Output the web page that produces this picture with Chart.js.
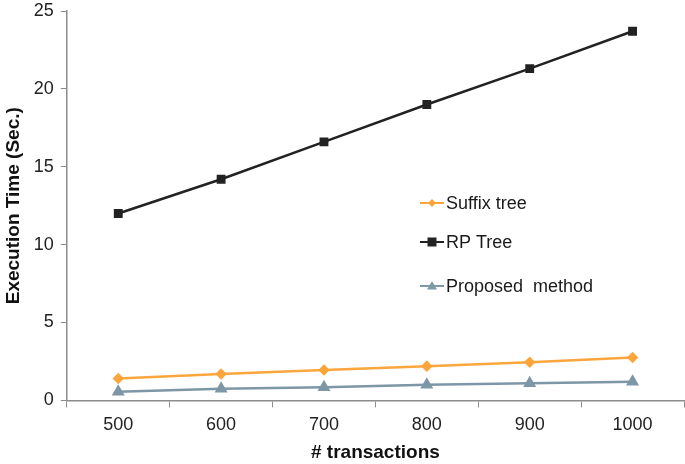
<!DOCTYPE html>
<html>
<head>
<meta charset="utf-8">
<script src="https://cdn.jsdelivr.net/npm/chart.js@4/dist/chart.umd.min.js"></script>
<style>
  html, body { margin: 0; padding: 0; background: #fff; }
  #wrap { width: 685px; height: 464px; }
</style>
</head>
<body>
<div id="wrap"><canvas id="timeChart" width="685" height="464"></canvas></div>
<script>
const transactions = ['500', '600', '700', '800', '900', '1000'];
const suffixTree = [1.4, 1.7, 1.95, 2.2, 2.45, 2.75];
const rpTree = [12.0, 14.2, 16.6, 19.0, 21.3, 23.7];
const proposedMethod = [0.55, 0.75, 0.85, 1.0, 1.1, 1.2];
const yTicks = [0, 5, 10, 15, 20, 25];

const axisGray = '#8c8c8c';
const font = 'Liberation Sans, Arial, sans-serif';

// legend drawn inside the plot area, like the original
const innerLegend = {
    id: 'innerLegend',
    afterDraw(chart) {
        const ctx = chart.ctx;
        const x0 = 420;
        const rows = [203, 242, 286];
        chart.data.datasets.forEach((ds, i) => {
            const y = rows[i];
            ctx.save();
            ctx.strokeStyle = ds.borderColor;
            ctx.lineWidth = 2;
            ctx.beginPath();
            ctx.moveTo(x0, y);
            ctx.lineTo(x0 + 24, y);
            ctx.stroke();
            ctx.fillStyle = ds.pointBackgroundColor;
            const cx = x0 + 12, r = ds.pointRadius;
            ctx.beginPath();
            if (ds.pointStyle === 'rect') {
                ctx.rect(cx - r, y - r, 2 * r, 2 * r);
            } else if (ds.pointStyle === 'rectRot') {
                ctx.moveTo(cx, y - r); ctx.lineTo(cx + r, y); ctx.lineTo(cx, y + r); ctx.lineTo(cx - r, y);
            } else {
                ctx.moveTo(cx, y - r); ctx.lineTo(cx + r, y + r * 0.7); ctx.lineTo(cx - r, y + r * 0.7);
            }
            ctx.closePath();
            ctx.fill();
            ctx.fillStyle = '#1a1a1a';
            ctx.font = '18px ' + font;
            ctx.textBaseline = 'middle';
            ctx.fillText(ds.label, x0 + 26, y + 1);
            ctx.restore();
        });
    }
};

new Chart(document.getElementById('timeChart'), {
    type: 'line',
    data: {
        labels: transactions,
        datasets: [
            {
                label: 'Suffix tree',
                data: suffixTree,
                borderColor: '#fba63c',
                pointBackgroundColor: '#fba63c',
                pointBorderColor: '#fba63c',
                pointStyle: 'rectRot',
                pointRadius: 4,
                borderWidth: 2.5
            },
            {
                label: 'RP Tree',
                data: rpTree,
                borderColor: '#222222',
                pointBackgroundColor: '#222222',
                pointBorderColor: '#222222',
                pointStyle: 'rect',
                pointRadius: 4.5,
                borderWidth: 2.5
            },
            {
                label: 'Proposed  method',
                data: proposedMethod,
                borderColor: '#7d97a6',
                pointBackgroundColor: '#7d97a6',
                pointBorderColor: '#7d97a6',
                pointStyle: 'triangle',
                pointRadius: 5,
                borderWidth: 2.5
            }
        ]
    },
    options: {
        responsive: false,
        animation: false,
        layout: { autoPadding: false, padding: { top: 0, right: 1, left: 0, bottom: 0 } },
        plugins: {
            legend: { display: false },
            tooltip: { enabled: false }
        },
        scales: {
            x: {
                offset: true,
                grid: {
                    offset: true,
                    drawOnChartArea: false,
                    drawTicks: true,
                    tickLength: 7,
                    color: axisGray
                },
                border: { color: axisGray, width: 1.5 },
                ticks: { color: '#222', font: { family: font, size: 18 }, padding: 7 },
                title: {
                    display: true,
                    text: '# transactions',
                    color: '#111',
                    font: { family: font, size: 19, weight: 'bold', lineHeight: 1.0 },
                    padding: { top: 0, bottom: 2 }
                }
            },
            y: {
                min: 0,
                max: 25,
                afterBuildTicks(axis) { axis.ticks = yTicks.map(v => ({ value: v })); },
                afterFit(scale) { scale.paddingTop = 11; scale.paddingBottom = 0; },
                grid: {
                    drawOnChartArea: false,
                    drawTicks: true,
                    tickLength: 6,
                    color: axisGray
                },
                border: { color: axisGray, width: 1.5 },
                ticks: { color: '#222', font: { family: font, size: 18 }, padding: 7 },
                title: {
                    display: true,
                    text: 'Execution Time (Sec.)',
                    color: '#111',
                    font: { family: font, size: 19, weight: 'bold' },
                    padding: { top: 2, bottom: 2 }
                }
            }
        }
    },
    plugins: [innerLegend]
});
</script>
</body>
</html>
